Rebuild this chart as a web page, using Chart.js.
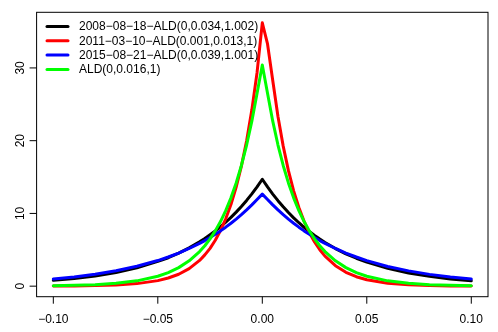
<!DOCTYPE html>
<html>
<head>
<meta charset="utf-8">
<script src="https://cdn.jsdelivr.net/npm/chart.js@4/dist/chart.umd.min.js"></script>
<style>
  html, body { margin: 0; padding: 0; background: #fff; }
  #wrap { width: 498px; height: 332px; }
</style>
</head>
<body>
<div id="wrap"><canvas id="grafico"></canvas></div>
<script>
// valores
const xs = [-0.1, -0.09, -0.08, -0.07, -0.06, -0.05, -0.045, -0.04, -0.035, -0.03, -0.0275, -0.025, -0.0225, -0.02,
    -0.0175, -0.015, -0.0125, -0.01, -0.0075, -0.005, -0.0025, 0,
    0.0025, 0.005, 0.0075, 0.01, 0.0125, 0.015, 0.0175, 0.02, 0.0225, 0.025, 0.0275, 0.03, 0.035, 0.04, 0.045, 0.05,
    0.06, 0.07, 0.08, 0.09, 0.1];

const serie2008 = [0.80, 1.06, 1.41, 1.89, 2.53, 3.40, 3.91, 4.55, 5.26, 6.09, 6.55, 7.06, 7.59, 8.17,
    8.79, 9.46, 10.18, 10.95, 11.79, 12.69, 13.66, 14.7,
    13.64, 12.66, 11.75, 10.91, 10.12, 9.39, 8.72, 8.09, 7.51, 6.97, 6.47, 6.00, 5.17, 4.45, 3.84, 3.30,
    2.45, 1.82, 1.35, 1.00, 0.74];
const serie2011 = [0.02, 0.04, 0.08, 0.16, 0.35, 0.76, 1.12, 1.64, 2.41, 3.54, 4.30, 5.20, 6.31, 7.65,
    9.27, 11.23, 13.61, 16.50, 20.00, 24.24, 29.38, 36.2,
    33.3, 28.27, 23.33, 19.25, 15.88, 13.10, 10.81, 8.92, 7.36, 6.07, 5.01, 4.13, 2.81, 1.91, 1.30, 0.89,
    0.41, 0.19, 0.09, 0.04, 0.02];
const serie2015 = [0.98, 1.26, 1.63, 2.11, 2.73, 3.52, 4.01, 4.55, 5.18, 5.89, 6.27, 6.69, 7.13, 7.60,
    8.11, 8.65, 9.22, 9.83, 10.48, 11.17, 11.91, 12.65,
    11.91, 11.17, 10.48, 9.83, 9.22, 8.65, 8.11, 7.60, 7.13, 6.69, 6.27, 5.89, 5.18, 4.55, 4.01, 3.51,
    2.71, 2.10, 1.62, 1.25, 0.97];
const serieALD = [0.06, 0.11, 0.21, 0.39, 0.73, 1.36, 1.86, 2.55, 3.48, 4.76, 5.56, 6.50, 7.60, 8.88,
    10.38, 12.14, 14.19, 16.59, 19.40, 22.68, 26.51, 30.4,
    26.51, 22.68, 19.40, 16.59, 14.19, 12.14, 10.38, 8.88, 7.60, 6.50, 5.56, 4.76, 3.48, 2.55, 1.86, 1.36,
    0.73, 0.39, 0.21, 0.11, 0.06];

const rotulos = ['2008\u221208\u221218\u2212ALD(0,0.034,1.002)', '2011\u221203\u221210\u2212ALD(0.001,0.013,1)',
    '2015\u221208\u221221\u2212ALD(0,0.039,1.001)', 'ALD(0,0.016,1)'];
const cores = ['#000000', '#ff0000', '#0000ff', '#00ff00'];
const ticksX = [-0.1, -0.05, 0, 0.05, 0.1];
const rotulosX = ['\u22120.10', '\u22120.05', '0.00', '0.05', '0.10'];
const ticksY = [0, 10, 20, 30];

const FONTE = '12px "Liberation Sans", Arial, sans-serif';

const series = [serie2008, serie2011, serie2015, serieALD];

// eixos, caixa e legenda no estilo do R
const eixosR = {
    id: 'eixosR',
    afterDraw(chart) {
        const ctx = chart.ctx;
        const a = chart.chartArea;
        const sx = chart.scales.x, sy = chart.scales.y;
        ctx.save();
        ctx.strokeStyle = '#000';
        ctx.fillStyle = '#000';
        ctx.lineWidth = 1;
        ctx.strokeRect(a.left, a.top, a.right - a.left, a.bottom - a.top);

        ctx.font = FONTE;
        ctx.textAlign = 'center';
        ctx.textBaseline = 'alphabetic';
        ticksX.forEach((v, i) => {
            const px = sx.getPixelForValue(v);
            ctx.beginPath();
            ctx.moveTo(px, a.bottom);
            ctx.lineTo(px, a.bottom + 7);
            ctx.stroke();
            ctx.fillText(rotulosX[i], px, 322.5);
        });
        ticksY.forEach(v => {
            const py = sy.getPixelForValue(v);
            ctx.beginPath();
            ctx.moveTo(a.left, py);
            ctx.lineTo(a.left - 7, py);
            ctx.stroke();
            ctx.save();
            ctx.translate(23.5, py);
            ctx.rotate(-Math.PI / 2);
            ctx.fillText(String(v), 0, 0);
            ctx.restore();
        });

        // legenda
        ctx.textAlign = 'left';
        ctx.textBaseline = 'middle';
        ctx.lineWidth = 3;
        ctx.lineCap = 'round';
        chart.data.datasets.forEach((ds, i) => {
            const y = 26.5 + i * 14.3;
            ctx.strokeStyle = ds.borderColor;
            ctx.beginPath();
            ctx.moveTo(47, y);
            ctx.lineTo(68, y);
            ctx.stroke();
            ctx.fillText(ds.label, 79, y + 0.5);
        });
        ctx.restore();
    }
};

new Chart(document.getElementById('grafico').getContext('2d'), {
    type: 'line',
    data: {
        datasets: series.map((s, i) => ({
            label: rotulos[i],
            data: xs.map((x, j) => ({ x: x, y: s[j] })),
            borderColor: cores[i],
            backgroundColor: cores[i],
            borderWidth: 3,
            borderJoinStyle: 'round',
            borderCapStyle: 'round',
            pointRadius: 0,
            tension: 0,
            fill: false,
            order: 4 - i
        }))
    },
    options: {
        responsive: true,
        maintainAspectRatio: false,
        animation: false,
        events: [],
        layout: { padding: { left: 36.6, right: 10, top: 12.3, bottom: 35.3 } },
        scales: {
            x: { type: 'linear', min: -0.108, max: 0.108, display: false },
            y: { type: 'linear', min: -1.448, max: 37.648, display: false }
        },
        plugins: { legend: { display: false }, tooltip: { enabled: false } }
    },
    plugins: [eixosR]
});
</script>
</body>
</html>
